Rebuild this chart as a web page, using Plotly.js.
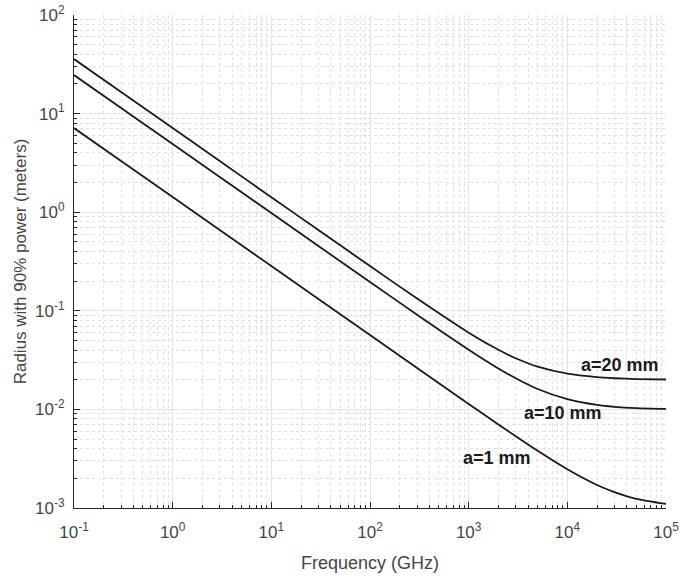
<!DOCTYPE html>
<html>
<head>
<meta charset="utf-8">
<script src="https://cdn.plot.ly/plotly-3.0.1.min.js"></script>
<style>html,body{margin:0;padding:0;background:#fff;}#chart{width:680px;height:578px;}</style>
</head>
<body>
<div id="chart"></div>
<script>
// Frequency samples (GHz)
const freq = [0.1, 0.3, 1, 3, 10, 30, 100, 300, 1000, 2000, 3000, 5000, 10000, 20000, 30000, 50000, 100000];
// Radius with 90% power (meters)
const r20mm = [35.7, 16.55, 7.13, 3.30, 1.42, 0.659, 0.284, 0.133, 0.060, 0.0402, 0.0330, 0.0271, 0.0230, 0.0212, 0.0207, 0.0203, 0.0201];
const r10mm = [24.6, 11.42, 4.92, 2.28, 0.98, 0.454, 0.196, 0.0912, 0.0403, 0.0260, 0.0207, 0.0161, 0.0127, 0.0111, 0.01063, 0.01031, 0.01012];
const r1mm  = [7.14, 3.31, 1.425, 0.660, 0.284, 0.1317, 0.0567, 0.0263, 0.01135, 0.00704, 0.00534, 0.0038, 0.00247, 0.00171, 0.00145, 0.00124, 0.0011];
const seriesNames = ['a=20 mm', 'a=10 mm', 'a=1 mm'];
const xTickVals = [0.1, 1, 10, 100, 1000, 10000, 100000];
const xTickText = ['10<sup>-1</sup>', '10<sup>0</sup>', '10<sup>1</sup>', '10<sup>2</sup>', '10<sup>3</sup>', '10<sup>4</sup>', '10<sup>5</sup>'];
const yTickVals = [0.001, 0.01, 0.1, 1, 10, 100];
const yTickText = ['10<sup>-3</sup>', '10<sup>-2</sup>', '10<sup>-1</sup>', '10<sup>0</sup>', '10<sup>1</sup>', '10<sup>2</sup>'];
// label anchor positions (data coords, log10)
const labelX = [4.534, 3.956, 3.292];
const labelY = [-1.550, -2.036, -2.493];

const allSeries = [r20mm, r10mm, r1mm];
const traces = allSeries.map((ys, i) => ({
  x: freq, y: ys, type: 'scatter', mode: 'lines', name: seriesNames[i],
  line: {color: '#1a1a1a', width: 1.8, shape: 'spline', smoothing: 0.6},
  hoverinfo: 'skip'
}));

const fontFam = '"Liberation Sans", Arial, Helvetica, sans-serif';
const axisCommon = {
  type: 'log',
  tickmode: 'array',
  showline: true, linecolor: '#262626', linewidth: 1,
  mirror: false,
  ticks: 'inside', ticklen: 6, tickcolor: '#262626', tickwidth: 1,
  showgrid: true, gridcolor: '#e4e4e4', gridwidth: 1,
  zeroline: false,
  tickfont: {family: fontFam, size: 17, color: '#454545'},
  minor: {dtick: 'D1', ticks: 'inside', ticklen: 3, tickcolor: '#262626', showgrid: true, gridcolor: '#e0e0e0', griddash: 'dot', gridwidth: 1}
};

const layout = {
  width: 680, height: 578,
  margin: {l: 74, r: 14, t: 15, b: 70},
  paper_bgcolor: '#fff', plot_bgcolor: '#fff',
  showlegend: false,
  xaxis: Object.assign({}, axisCommon, {
    range: [-1, 5], tickvals: xTickVals, ticktext: xTickText,
    ticklabelstandoff: 9,
    title: {text: 'Frequency (GHz)', font: {family: fontFam, size: 18, color: '#454545'}, standoff: 14}
  }),
  yaxis: Object.assign({}, axisCommon, {
    range: [-3, 2], tickvals: yTickVals, ticktext: yTickText,
    ticklabelstandoff: 5,
    title: {text: 'Radius with 90% power (meters)', font: {family: fontFam, size: 17, color: '#454545'}, standoff: 4}
  }),
  annotations: seriesNames.map((t, i) => ({
    x: labelX[i], y: labelY[i], xref: 'x', yref: 'y', text: '<b>' + t + '</b>',
    showarrow: false, font: {family: fontFam, size: 18, color: '#1a1a1a'}
  }))
};

Plotly.newPlot('chart', traces, layout, {displayModeBar: false, staticPlot: true});
</script>
</body>
</html>
